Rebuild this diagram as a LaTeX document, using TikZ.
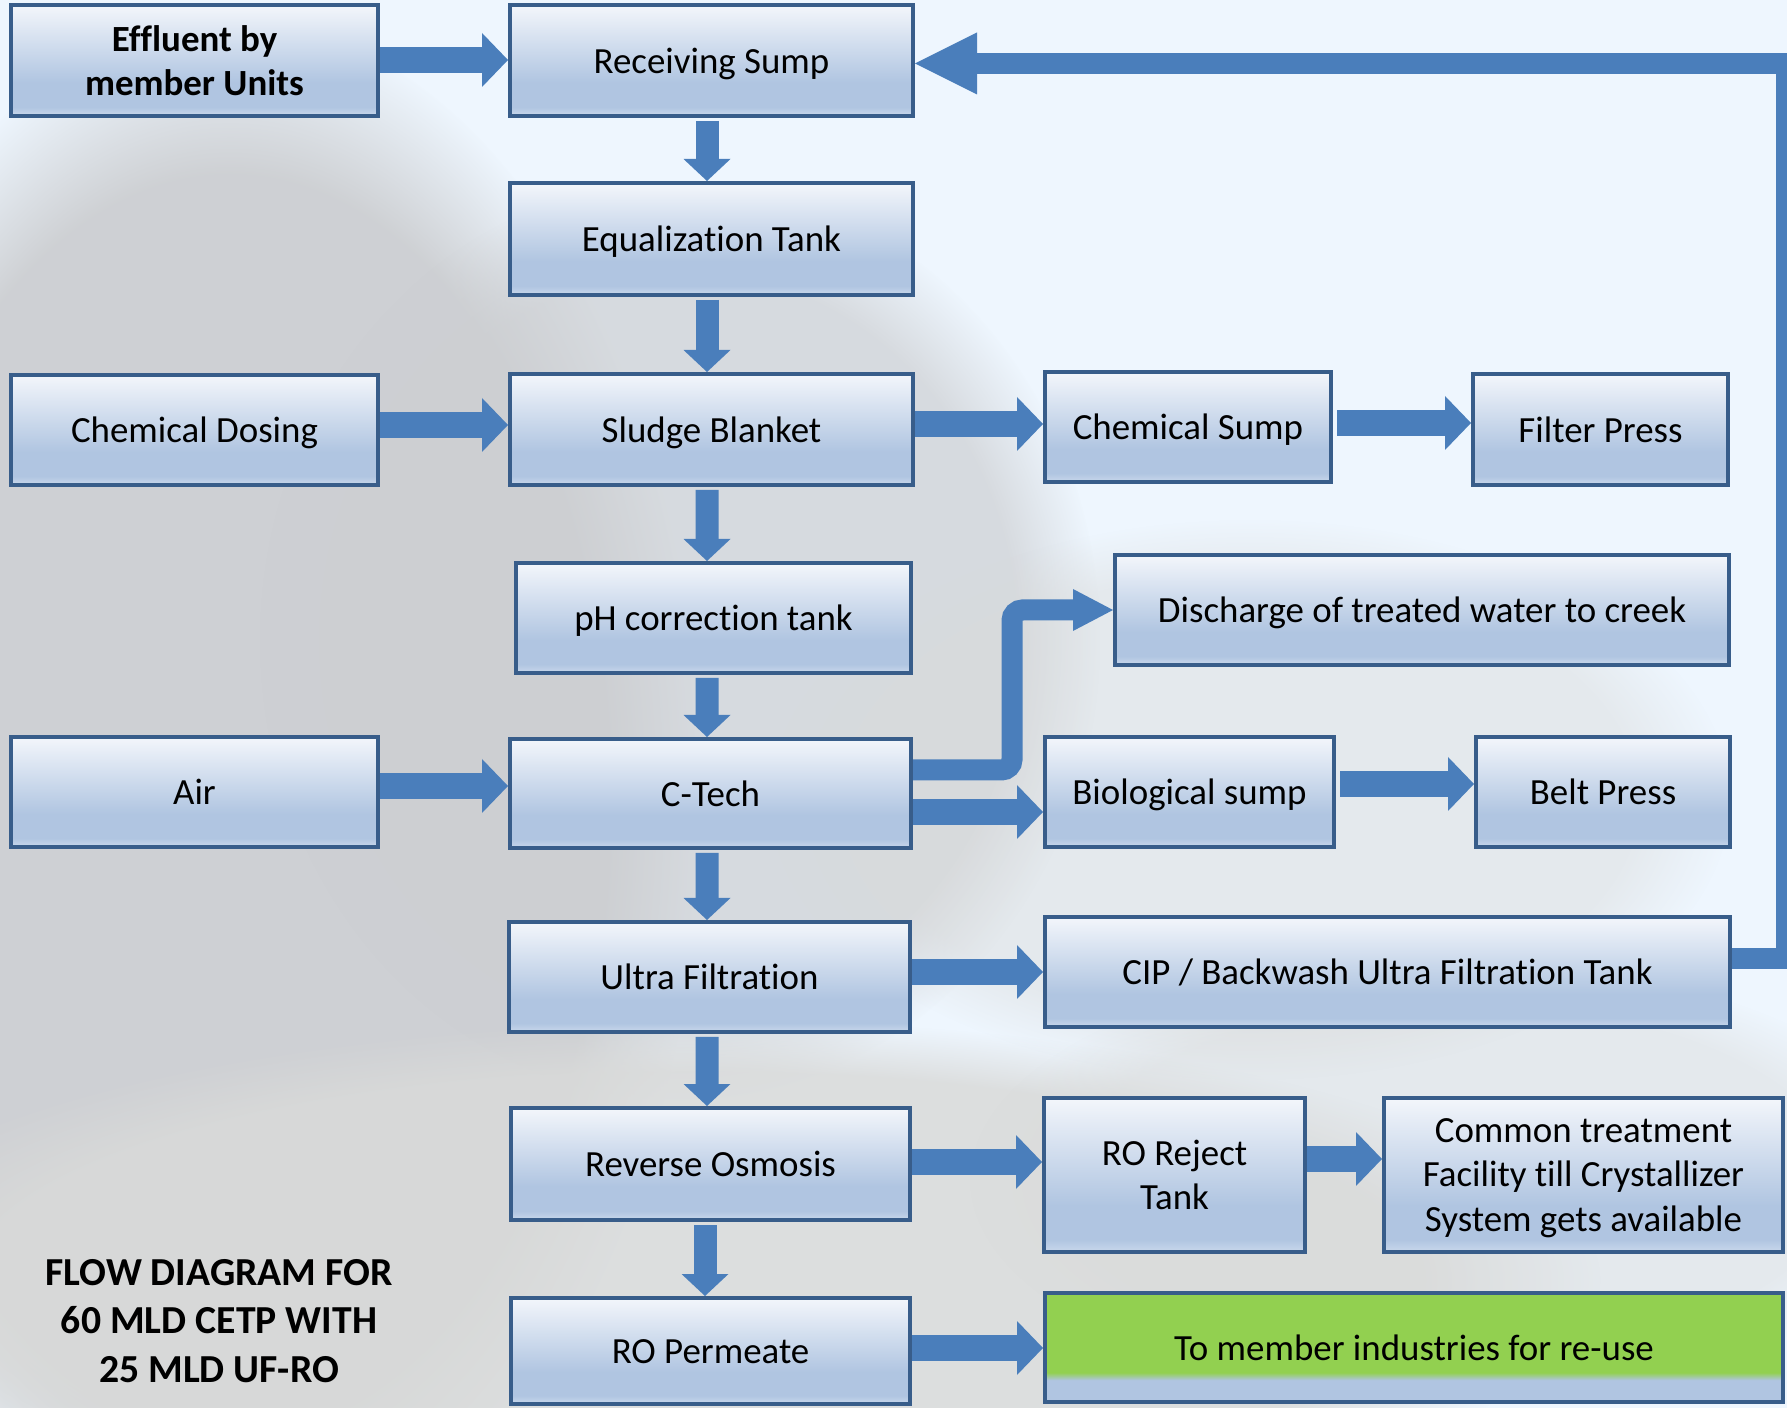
\documentclass[tikz,border=0pt]{standalone}
\usepackage{fontspec}
\setmainfont{Carlito}[Ligatures=NoCommon]
\usetikzlibrary{arrows.meta,fadings}
\definecolor{bgc}{HTML}{EEF6FE}
\definecolor{greyc}{HTML}{CDCFD2}
\definecolor{greyl}{HTML}{D9DAD9}
\definecolor{bordc}{HTML}{385D8A}
\definecolor{arrc}{HTML}{4A7EBB}
\definecolor{bT}{HTML}{F3F6FB}
\definecolor{bM}{HTML}{B0C5E1}
\definecolor{bB}{HTML}{C9D8EC}
\definecolor{gr}{HTML}{92D050}
\pgfdeclareverticalshading{boxshade}{100bp}{color(0bp)=(bB); color(25bp)=(bB); color(29bp)=(bM); color(40bp)=(bM); color(75bp)=(bT); color(100bp)=(bT)}
\pgfdeclareverticalshading{greenshade}{100bp}{color(0bp)=(bM); color(25bp)=(bM); color(35bp)=(bM); color(38.5bp)=(gr); color(100bp)=(gr)}
\newcommand\bnode[7][]{\node[box,#1,minimum width={(#5-#3-4)*0.1mm},minimum height={(#6-#4-4)*0.1mm}] (#2) at ({(#3+#5)/2},{(#4+#6)/2}) {#7};}
\tikzset{
  box/.style={draw=bordc, line width=0.4mm, shade, shading=boxshade, inner sep=0pt, align=center,
    font=\fontsize{10.5}{12.7}\selectfont, text=black},
  sline/.style={text height=7.3pt, text depth=0pt},
  greenbox/.style={shading=greenshade},
  hflow/.style={draw=arrc, line width=2.6mm, -{Triangle[width=5.4mm,length=2.6mm,line width=0pt]}},
  vflow/.style={draw=arrc, line width=2.3mm, -{Triangle[width=4.7mm,length=2.2mm,line width=0pt]}},
  fbflow/.style={draw=arrc, line width=2.1mm, line join=miter, -{Triangle[width=6.2mm,length=6.2mm,line width=0pt]}},
  elflow/.style={draw=arrc, line width=2.1mm, rounded corners=1.05mm, -{Triangle[width=4.2mm,length=4mm,line width=0pt]}},
  blob/.style={path fading=circle with fuzzy edge 20 percent},
  title/.style={font=\bfseries\fontsize{11.3}{13.7}\selectfont, align=center, text=black}
}
\begin{document}
\begin{tikzpicture}[x=0.1mm,y=-0.1mm]
\useasboundingbox (0,0) rectangle (1787,1408);
\clip (0,0) rectangle (1787,1408);
% background
\fill[bgc] (0,0) rectangle (1787,1408);
\fill[greyc, blob, fill opacity=0.95] (230,800) ellipse (470 and 780);
\fill[greyc, blob, fill opacity=0.7] (680,640) ellipse (420 and 460);
\fill[greyl, blob, fill opacity=0.85] (700,1280) ellipse (900 and 260);
\fill[greyl, blob, fill opacity=0.45] (1250,800) ellipse (480 and 280);
\fill[greyl, blob, fill opacity=0.45] (1450,1180) ellipse (480 and 220);
% boxes
\bnode[font=\bfseries\fontsize{10.5}{12.7}\selectfont, text depth=-0.46mm]{eff}{9}{3}{380}{118}{Effluent by\\member Units}
\bnode[sline]{recv}{508}{3}{915}{118}{Receiving Sump}
\bnode[sline]{eq}{508}{181}{915}{297}{Equalization Tank}
\bnode[sline]{chemdose}{9}{373}{380}{487}{Chemical Dosing}
\bnode[sline]{sludge}{508}{372}{915}{487}{Sludge Blanket}
\bnode[sline]{chemsump}{1043}{370}{1333}{484}{Chemical Sump}
\bnode[sline]{filter}{1471}{372}{1730}{487}{Filter Press}
\bnode[sline]{ph}{514}{561}{913}{675}{pH correction tank}
\bnode[sline]{disc}{1113}{553}{1731}{667}{Discharge of treated water to creek}
\bnode[sline]{air}{9}{735}{380}{849}{Air}
\bnode[sline]{ctech}{508}{737}{913}{850}{C-Tech}
\bnode[sline]{bio}{1043}{735}{1336}{849}{Biological sump}
\bnode[sline]{belt}{1474}{735}{1732}{849}{Belt Press}
\bnode[sline]{uf}{507}{920}{912}{1034}{Ultra Filtration}
\bnode[sline]{cip}{1043}{915}{1732}{1029}{CIP / Backwash Ultra Filtration Tank}
\bnode[sline]{ro}{509}{1106}{912}{1222}{Reverse Osmosis}
\bnode{reject}{1042}{1096}{1307}{1254}{RO Reject\\Tank}
\bnode[text depth=0pt]{common}{1382}{1096}{1785}{1254}{Common treatment\\Facility till Crystallizer\\System gets available}
\bnode[sline]{perm}{509}{1296}{912}{1406}{RO Permeate}
\bnode[greenbox,sline]{green}{1043}{1291}{1785}{1404}{To member industries for re-use}
\node[title] (ttl) at (219,1321) {FLOW DIAGRAM FOR\\60 MLD CETP WITH\\25 MLD UF-RO};
% vertical flow
\draw[vflow] ([xshift=-0.45mm,yshift=-0.3mm]recv.south) -- ([xshift=-0.45mm]eq.north);
\draw[vflow] ([xshift=-0.45mm,yshift=-0.3mm]eq.south) -- ([xshift=-0.45mm]sludge.north);
\draw[vflow] ([xshift=-0.45mm,yshift=-0.3mm]sludge.south) -- ([xshift=-0.65mm]ph.north);
\draw[vflow] ([xshift=-0.65mm,yshift=-0.3mm]ph.south) -- ([xshift=-0.35mm]ctech.north);
\draw[vflow] ([xshift=-0.35mm,yshift=-0.3mm]ctech.south) -- ([xshift=-0.25mm]uf.north);
\draw[vflow] ([xshift=-0.25mm,yshift=-0.3mm]uf.south) -- ([xshift=-0.35mm]ro.north);
\draw[vflow] ([xshift=-0.55mm,yshift=-0.3mm]ro.south) -- ([xshift=-0.55mm]perm.north);
% horizontal flow
\draw[hflow] (eff.east |- 0,60) -- (recv.west |- 0,60);
\draw[hflow] (chemdose.east |- 0,425) -- (sludge.west |- 0,425);
\draw[hflow] (sludge.east |- 0,424) -- (chemsump.west |- 0,424);
\draw[hflow] ([xshift=0.4mm]chemsump.east |- 0,423) -- (filter.west |- 0,423);
\draw[hflow] (air.east |- 0,786) -- (ctech.west |- 0,786);
\draw[hflow] (ctech.east |- 0,812) -- (bio.west |- 0,812);
\draw[hflow] ([xshift=0.4mm]bio.east |- 0,784) -- (belt.west |- 0,784);
\draw[hflow] (uf.east |- 0,972) -- (cip.west |- 0,972);
\draw[hflow] (ro.east |- 0,1162) -- (reject.west |- 0,1162);
\draw[hflow] (reject.east |- 0,1159) -- (common.west |- 0,1159);
\draw[hflow] (perm.east |- 0,1348) -- (green.west |- 0,1348);
% elbow to discharge
\draw[elflow] (ctech.east |- 0,770) -| (1012,610) -- (disc.west);
% feedback loop
\draw[fbflow] (cip.east |- 0,959) -| (1786,63.5) -- (recv.east |- 0,63.5);
\end{tikzpicture}
\end{document}
